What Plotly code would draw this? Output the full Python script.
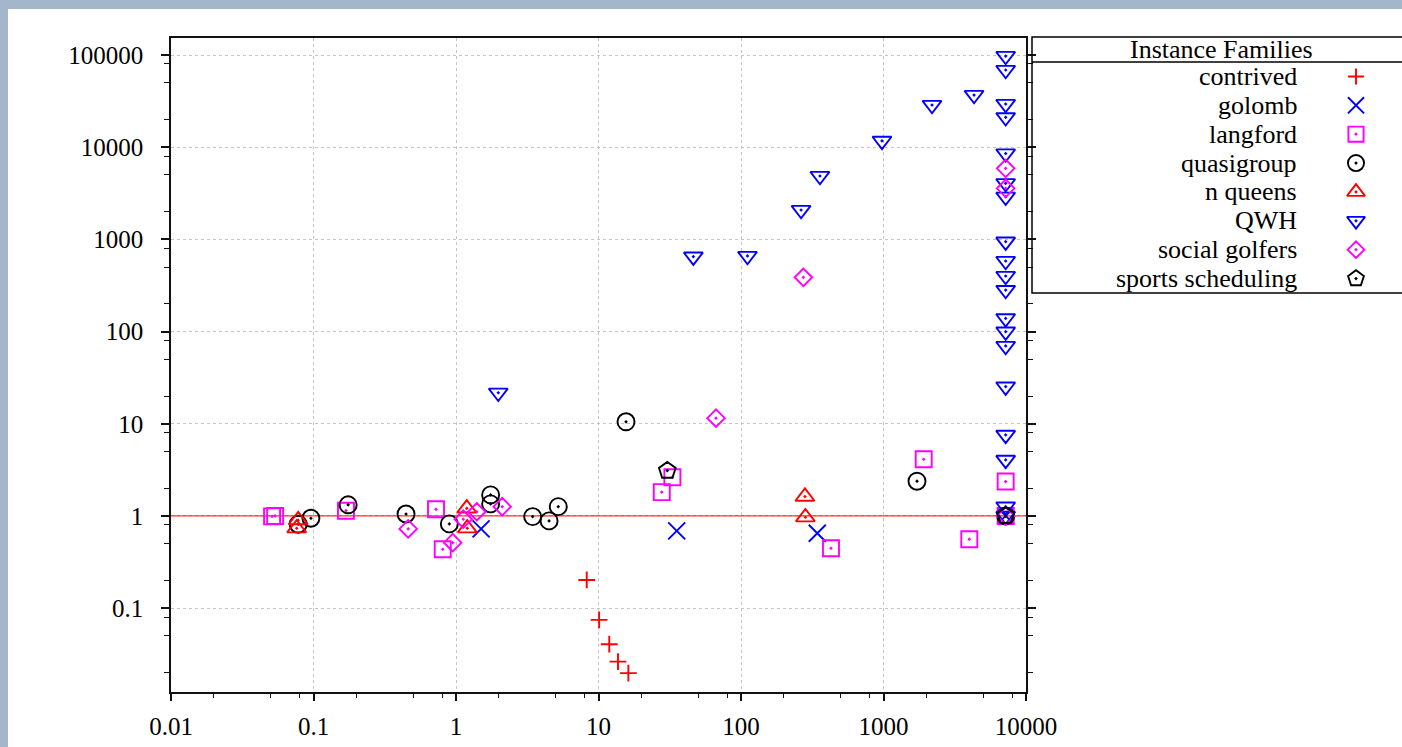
import numpy as np
import plotly.graph_objects as go

# ---------------- data ----------------
families = ["contrived", "golomb", "langford", "quasigroup", "n queens",
            "QWH", "social golfers", "sports scheduling"]

contrived_x = [8.27, 10.1, 11.9, 13.7, 16.2]
contrived_y = [0.202, 0.0745, 0.0406, 0.0263, 0.0197]

golomb_x = [1.50, 35.4, 343, 7200]
golomb_y = [0.723, 0.688, 0.649, 1.0]

langford_x = [0.0512, 0.0538, 0.169, 0.724, 0.807, 27.8, 33.0, 428, 1915, 4000, 7200, 7200]
langford_y = [0.988, 1.0, 1.14, 1.18, 0.435, 1.81, 2.63, 0.446, 4.12, 0.559, 2.36, 1.0]

quasigroup_x = [0.0781, 0.0959, 0.175, 0.446, 0.898, 1.75, 1.75, 3.45, 4.50, 5.22, 15.6, 1718, 7200]
quasigroup_y = [0.813, 0.944, 1.32, 1.05, 0.819, 1.69, 1.35, 0.983, 0.883, 1.26, 10.5, 2.38, 1.0]

nqueens_x = [0.0781, 0.0762, 1.19, 1.20, 281, 283]
nqueens_y = [0.90, 0.735, 1.21, 0.735, 1.62, 0.968]

qwh_x = [1.98, 46.3, 111, 264, 358, 976, 2190, 4320] + [7200] * 19
qwh_y = [21.7, 649, 661, 2083, 4870, 11700, 28700, 36800,
         97500, 68800, 29400, 21100, 8550, 4060, 2900, 944, 583, 401, 282,
         139, 99.8, 69.8, 25.3, 7.56, 4.05, 1.26, 1.0]

golfers_x = [0.462, 0.948, 1.125, 1.40, 2.11, 66.8, 274, 7200, 7200, 7200]
golfers_y = [0.723, 0.513, 0.921, 1.11, 1.26, 11.5, 388, 5900, 3580, 1.0]

sports_x = [30.4, 7200]
sports_y = [3.10, 1.0]

x_tick_vals = [0.01, 0.1, 1, 10, 100, 1000, 10000]
x_tick_text = ["0.01", "0.1", "1", "10", "100", "1000", "10000"]
y_tick_vals = [0.1, 1, 10, 100, 1000, 10000, 100000]
y_tick_text = ["0.1", "1", "10", "100", "1000", "10000", "100000"]
minor_mult = [2, 5, 8]
x_minor = [m * 10.0 ** k for k in range(-2, 4) for m in minor_mult]
y_minor = [m * 10.0 ** k for k in range(-2, 5) for m in minor_mult]
ref_level = 1.0

# ---------------- styling ----------------
FONT = "Liberation Serif"
FS_TICK = 25
FS_LEG = 26
W, H = 1402, 747
ML, MR, MT, MB = 171, 0, 38, 55
PW = W - ML - MR
PH = H - MT - MB
plot_right_px = 1026
LW = 1.9


def px_x(p):
    return (p - ML) / PW


def px_y(p):
    return (H - MB - p) / PH


styles = [
    dict(symbol="cross-thin-open", color="#ff0000", size=12),
    dict(symbol="x-thin-open", color="#0000ff", size=17),
    dict(symbol="square-open-dot", color="#ff00ff", size=16),
    dict(symbol="circle-open-dot", color="#000000", size=17),
    dict(symbol="triangle-up-open-dot", color="#ff0000", size=16.5),
    dict(symbol="triangle-down-open-dot", color="#0000ff", size=16.5),
    dict(symbol="diamond-open-dot", color="#ff00ff", size=13.5),
    dict(symbol="pentagon-open-dot", color="#000000", size=17.5),
]
series = [(contrived_x, contrived_y), (golomb_x, golomb_y), (langford_x, langford_y),
          (quasigroup_x, quasigroup_y), (nqueens_x, nqueens_y), (qwh_x, qwh_y),
          (golfers_x, golfers_y), (sports_x, sports_y)]

fig = go.Figure()

# reference line at y = 1 (drawn first so markers sit on top)
fig.add_trace(go.Scatter(
    x=[x_tick_vals[0], x_tick_vals[-1]], y=[ref_level, ref_level], mode="lines",
    line=dict(color="#ff0000", width=1), showlegend=False, hoverinfo="skip",
    xaxis="x", yaxis="y"))

for name, (xs, ys), st in zip(families, series, styles):
    fig.add_trace(go.Scatter(
        x=xs, y=ys, mode="markers", name=name, showlegend=False,
        marker=dict(symbol=st["symbol"], size=st["size"], color=st["color"],
                    line=dict(color=st["color"], width=LW)),
        xaxis="x", yaxis="y"))

# custom legend (text right-aligned, symbol on the right)
LEG_TEXT_X = (1299 - 1032) / 370
LEG_SYM_X = (1356 - 1032) / 370
for i, (name, st) in enumerate(zip(families, styles)):
    fig.add_trace(go.Scatter(
        x=[LEG_SYM_X], y=[i], mode="markers", showlegend=False, hoverinfo="skip",
        marker=dict(symbol=st["symbol"], size=st["size"] * 0.95, color=st["color"],
                    line=dict(color=st["color"], width=LW)),
        xaxis="x2", yaxis="y2"))
    fig.add_annotation(x=LEG_TEXT_X, y=i, xref="x2", yref="y2", text=name,
                       showarrow=False, xanchor="right", yanchor="middle",
                       font=dict(family=FONT, size=FS_LEG, color="#000"))

fig.add_annotation(x=px_x(1221), y=px_y(49), xref="paper", yref="paper",
                   text="Instance Families", showarrow=False,
                   xanchor="center", yanchor="middle",
                   font=dict(family=FONT, size=FS_LEG, color="#000"))

shapes = [
    # white page area
    dict(type="rect", xref="paper", yref="paper", x0=px_x(8), x1=px_x(W + 20),
         y0=px_y(H + 20), y1=px_y(9), fillcolor="white", line=dict(width=0),
         layer="below"),
    # legend box
    dict(type="rect", xref="paper", yref="paper", x0=px_x(1032), x1=px_x(W + 10),
         y0=px_y(293), y1=px_y(37), line=dict(color="#000", width=1.5),
         fillcolor="rgba(0,0,0,0)"),
    dict(type="line", xref="paper", yref="paper", x0=px_x(1032), x1=px_x(W + 10),
         y0=px_y(62), y1=px_y(62), line=dict(color="#000", width=1.5)),
]

axis_common = dict(
    type="log", showline=True, linecolor="#111", linewidth=1.5,
    ticks="outside", tickcolor="#111", tickwidth=1.5, ticklen=8,
    showgrid=True, gridcolor="#c4c4c4", griddash="dot", gridwidth=1,
    zeroline=False, tickmode="array", automargin=False,
    tickfont=dict(family=FONT, size=FS_TICK, color="#000"),
)

fig.update_layout(
    width=W, height=H, autosize=False,
    margin=dict(l=ML, r=MR, t=MT, b=MB, pad=0, autoexpand=False),
    paper_bgcolor="#a4b6cb",
    plot_bgcolor="white",
    shapes=shapes,
    xaxis=dict(axis_common, domain=[0, px_x(plot_right_px)], range=[-2, 4],
               tickvals=x_tick_vals, ticktext=x_tick_text, mirror=True,
               ticklen=7, ticklabelstandoff=4,
               minor=dict(tickmode="array", tickvals=x_minor, ticks="outside",
                          ticklen=4, tickwidth=1, tickcolor="#111", showgrid=False),
               anchor="y"),
    yaxis=dict(axis_common, domain=[0, 1],
               range=[np.log10(0.0123), np.log10(153000)],
               tickvals=y_tick_vals, ticktext=y_tick_text, mirror="ticks",
               ticklabelstandoff=13,
               minor=dict(tickmode="array", tickvals=y_minor, ticks="outside",
                          ticklen=5, tickwidth=1, tickcolor="#111", showgrid=False),
               anchor="x"),
    xaxis2=dict(domain=[px_x(1032), 1], range=[0, 1], visible=False, anchor="y2",
                fixedrange=True),
    yaxis2=dict(domain=[px_y(293), px_y(62)], range=[7.5, -0.5], visible=False,
                anchor="x2", fixedrange=True),
    showlegend=False,
)

fig.write_html("out.html",
               config={"displayModeBar": False, "responsive": False},
               post_script="document.body.style.margin='0';document.body.style.overflow='hidden';")
